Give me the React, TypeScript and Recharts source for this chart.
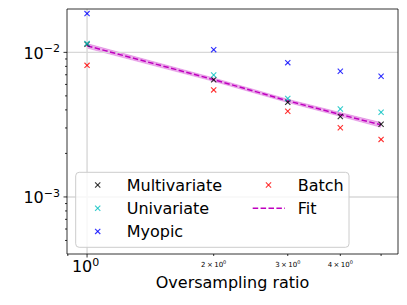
import React from 'react';
import { ComposedChart, XAxis, YAxis, Scatter, Line, Area, ReferenceLine } from 'recharts';

const ratios = [1, 2, 3, 4, 5];
const multivariate = [0.0114, 0.00647, 0.00451, 0.0036, 0.00318];
const univariate = [0.0115, 0.00698, 0.00479, 0.00406, 0.00385];
const myopic = [0.01854, 0.01044, 0.00849, 0.0074, 0.00683];
const batch = [0.00813, 0.0055, 0.00391, 0.00301, 0.0025];
const fit = [0.0111, 0.00648, 0.00462, 0.00372, 0.00315];
const fitHigh = [0.0115, 0.00665, 0.00474, 0.00383, 0.00327];
const fitLow = [0.0107, 0.0063, 0.0045, 0.00361, 0.00303];

const xTicks = [0.9, 1, 2, 3, 4, 5];
const xMajor = [1];
const xTickLabels: Record<string, [string, string]> = {
  '1': ['10', '0'],
  '2': ['2\u2009×\u200910', '0'],
  '3': ['3\u2009×\u200910', '0'],
  '4': ['4\u2009×\u200910', '0'],
};
const yTicks = [5e-4, 6e-4, 7e-4, 8e-4, 9e-4, 1e-3, 2e-3, 3e-3, 4e-3, 5e-3, 6e-3, 7e-3, 8e-3, 9e-3, 1e-2];
const yTickLabels: Record<string, [string, string]> = {
  '0.001': ['10', '\u22123'],
  '0.01': ['10', '\u22122'],
};

const series = [
  { name: 'Multivariate', values: multivariate, color: '#000000' },
  { name: 'Univariate', values: univariate, color: '#00bfbf' },
  { name: 'Myopic', values: myopic, color: '#0000ff' },
  { name: 'Batch', values: batch, color: '#ff0000' },
];

const fitData = ratios.map((x, i) => ({ x, fit: fit[i], lo: fitLow[i], hi: fitHigh[i] }));

const FONT = 'DejaVu Sans';
const W = 407;
const H = 305;
const MARGIN = { top: 9, right: 9, left: 0, bottom: 0 };
const Y_AXIS_W = 67;
const X_AXIS_H = 51;
const PLOT_LEFT = MARGIN.left + Y_AXIS_W;
const PLOT_BOTTOM = H - MARGIN.bottom - X_AXIS_H;
const X_DOMAIN: [number, number] = [0.896, 5.485];
const Y_DOMAIN: [number, number] = [4.03e-4, 0.01995];

const XMark = (props: any) => {
  const { cx, cy, color } = props;
  if (cx == null || cy == null) return null;
  const r = 2.6;
  return (
    <g stroke={color} strokeWidth={1.1} strokeOpacity={0.8}>
      <line x1={cx - r} y1={cy - r} x2={cx + r} y2={cy + r} />
      <line x1={cx - r} y1={cy + r} x2={cx + r} y2={cy - r} />
    </g>
  );
};

const XTick = (props: any) => {
  const { x, payload } = props;
  const v = payload.value;
  const major = xMajor.includes(v);
  const len = major ? 3.5 : 2;
  const lab = xTickLabels[String(v)];
  return (
    <g>
      <line x1={x} y1={PLOT_BOTTOM} x2={x} y2={PLOT_BOTTOM + len} stroke="#000" strokeWidth={0.8} />
      {lab && major && (
        <text x={x - 1.5} y={PLOT_BOTTOM + 18} textAnchor="middle" fontFamily={FONT} fontSize={16} fill="#000">
          {lab[0]}
          <tspan dy={-6.5} fontSize={11}>{lab[1]}</tspan>
        </text>
      )}
      {lab && !major && (
        <text x={x} y={PLOT_BOTTOM + 12.5} textAnchor="middle" fontFamily={FONT} fontSize={7} fill="#000">
          {lab[0]}
          <tspan dy={-3} fontSize={5}>{lab[1]}</tspan>
        </text>
      )}
    </g>
  );
};

const YTick = (props: any) => {
  const { y, payload } = props;
  const v = payload.value;
  const lab = yTickLabels[String(v)];
  const len = lab ? 3.5 : 2;
  return (
    <g>
      <line x1={PLOT_LEFT - len} y1={y} x2={PLOT_LEFT} y2={y} stroke="#000" strokeWidth={0.8} />
      {lab && (
        <text x={PLOT_LEFT - 7} y={y + 6.3} textAnchor="end" fontFamily={FONT} fontSize={16} fill="#000">
          {lab[0]}
          <tspan dy={-6.5} fontSize={11}>{lab[1]}</tspan>
        </text>
      )}
    </g>
  );
};

const XLabel = (props: any) => {
  const vb = props.viewBox || {};
  return (
    <text x={vb.x + vb.width / 2} y={vb.y + 34} textAnchor="middle" fontFamily={FONT} fontSize={16} fill="#000">
      Oversampling ratio
    </text>
  );
};

const LegendOverlay = () => {
  const rows = [
    { s: series[0], col: 0, row: 0 },
    { s: series[1], col: 0, row: 1 },
    { s: series[2], col: 0, row: 2 },
    { s: series[3], col: 1, row: 0 },
  ];
  const rowY = [185, 208.2, 231.4];
  const markX = [97.7, 268.5];
  const textX = [126.7, 297.7];
  return (
    <svg width={W} height={H} style={{ position: 'absolute', left: 0, top: 0, pointerEvents: 'none' }}>
      <rect x={75.7} y={172.3} width={273.3} height={75} rx={3.5} fill="#ffffff" fillOpacity={0.8} stroke="#cccccc" strokeWidth={1} />
      {rows.map(({ s, col, row }) => (
        <g key={s.name}>
          <XMark cx={markX[col]} cy={rowY[row]} color={s.color} />
          <text x={textX[col]} y={rowY[row] + 6} fontFamily={FONT} fontSize={16} fill="#000">{s.name}</text>
        </g>
      ))}
      <line x1={252.7} y1={rowY[1]} x2={285} y2={rowY[1]} stroke="#bf00bf" strokeWidth={1.5} strokeDasharray="5.5 2.4" />
      <text x={textX[1]} y={rowY[1] + 6} fontFamily={FONT} fontSize={16} fill="#000">Fit</text>
    </svg>
  );
};

export default function App() {
  return (
    <div style={{ position: 'fixed', left: 0, top: 0, width: W, height: H, background: '#fff' }}>
      <ComposedChart width={W} height={H} margin={MARGIN}>
        <XAxis
          xAxisId="b"
          type="number"
          dataKey="x"
          scale="log"
          domain={X_DOMAIN}
          allowDataOverflow
          ticks={xTicks}
          interval={0}
          tick={<XTick />}
          tickLine={false}
          axisLine={{ stroke: '#000', strokeWidth: 0.8 }}
          height={X_AXIS_H}
          label={<XLabel />}
        />
        <YAxis
          yAxisId="l"
          type="number"
          scale="log"
          domain={Y_DOMAIN}
          allowDataOverflow
          ticks={yTicks}
          interval={0}
          tick={<YTick />}
          tickLine={false}
          axisLine={{ stroke: '#000', strokeWidth: 0.8 }}
          width={Y_AXIS_W}
        />
        <ReferenceLine xAxisId="b" yAxisId="l" y={0.01} stroke="#d8d8d8" strokeWidth={1.4} />
        <ReferenceLine xAxisId="b" yAxisId="l" y={0.001} stroke="#d8d8d8" strokeWidth={1.4} />
        <ReferenceLine xAxisId="b" yAxisId="l" x={1} stroke="#d8d8d8" strokeWidth={1.4} />
        <Area
          xAxisId="b"
          yAxisId="l"
          data={fitData}
          dataKey={(d: any) => [d.lo, d.hi]}
          type="linear"
          fill="#bf00bf"
          fillOpacity={0.3}
          stroke="#bf00bf"
          strokeOpacity={0.25}
          strokeWidth={1}
          isAnimationActive={false}
          dot={false}
          activeDot={false}
        />
        {series.map((s) => (
          <Scatter
            key={s.name}
            xAxisId="b"
            yAxisId="l"
            name={s.name}
            data={ratios.map((x, i) => ({ x, y: s.values[i] }))}
            dataKey="y"
            shape={(p: any) => <XMark {...p} color={s.color} />}
            isAnimationActive={false}
          />
        ))}
        <Line
          xAxisId="b"
          yAxisId="l"
          data={fitData}
          dataKey="fit"
          type="linear"
          stroke="#bf00bf"
          strokeWidth={1.5}
          strokeDasharray="5.5 2.4"
          dot={false}
          activeDot={false}
          isAnimationActive={false}
        />
        <ReferenceLine xAxisId="b" yAxisId="l" y={Y_DOMAIN[1]} stroke="#000" strokeWidth={0.8} ifOverflow="visible" />
        <ReferenceLine xAxisId="b" yAxisId="l" x={X_DOMAIN[1]} stroke="#000" strokeWidth={0.8} ifOverflow="visible" />
      </ComposedChart>
      <LegendOverlay />
    </div>
  );
}
